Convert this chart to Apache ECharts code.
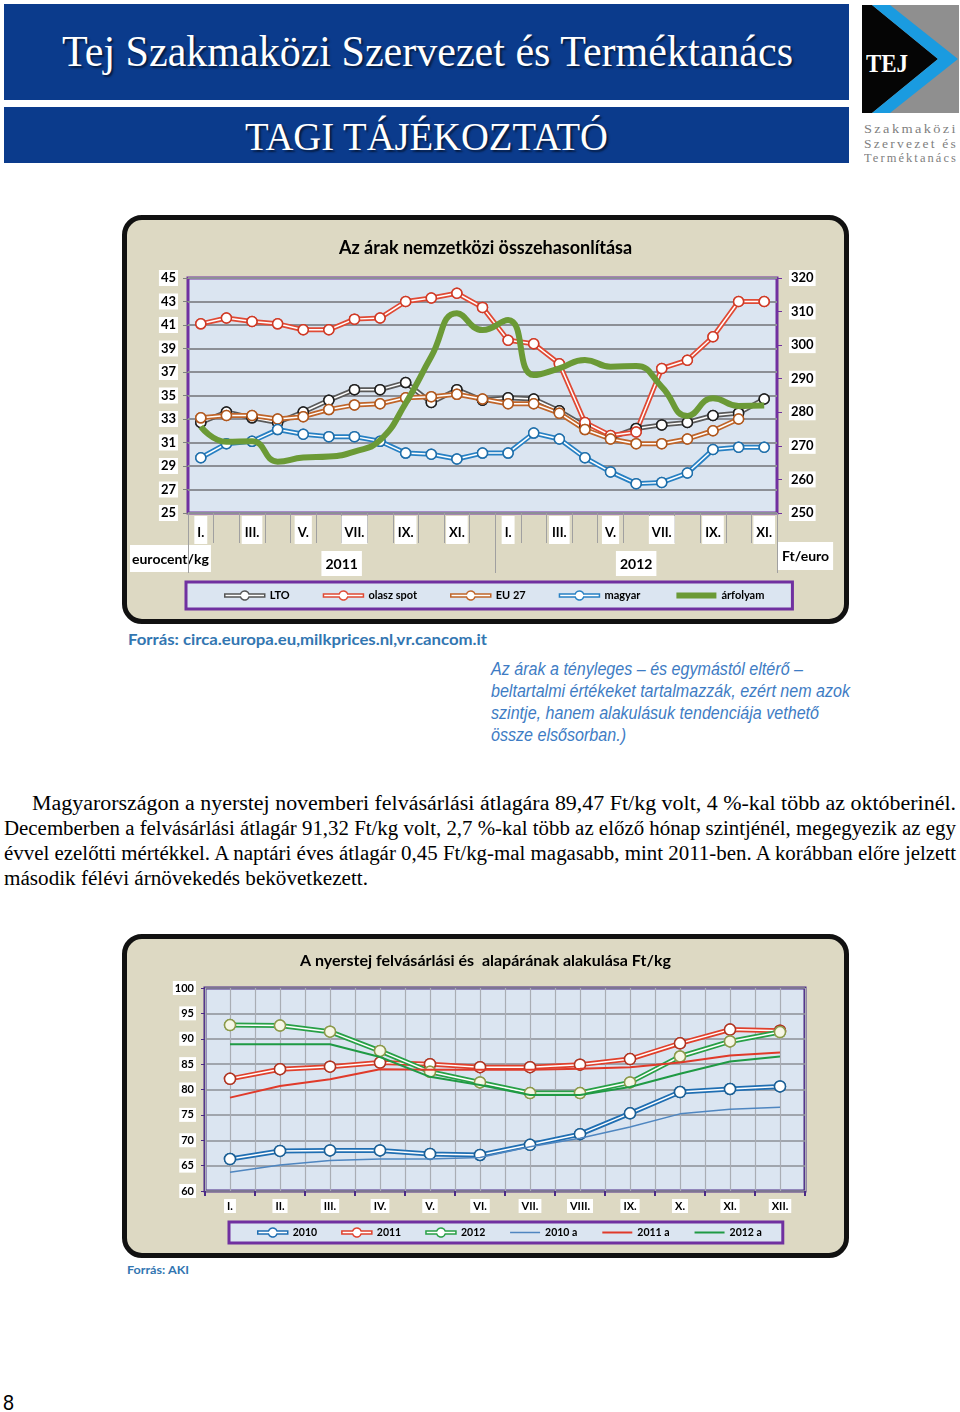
<!DOCTYPE html>
<html><head><meta charset="utf-8">
<script src="https://cdn.jsdelivr.net/npm/echarts@6/dist/echarts.min.js"></script>
<style>
body{margin:0;width:960px;height:1412px;position:relative;background:#fff;overflow:hidden;font-family:Lato,'Open Sans',sans-serif;}
.abs{position:absolute;}
.fit{white-space:nowrap;transform-origin:0 50%;line-height:1.15;}
.frame{position:absolute;box-sizing:border-box;border:5px solid #111;border-radius:20px;background:#ddd9c3;}
.banner{position:absolute;background:#0b3b8c;}
</style></head><body>
<div class="banner" style="left:4px;top:4px;width:845px;height:96px;"></div>
<div class="banner" style="left:4px;top:107px;width:845px;height:56px;"></div>
<svg class="abs" style="left:862px;top:5px" width="97" height="108" viewBox="0 0 97 108">
  <rect x="0" y="0" width="97" height="108" fill="#8f8f8f"/>
  <polygon points="0,0 10,0 76,54 10,108 0,108" fill="#050505"/>
  <polygon points="10,0 28,0 96,54 28,108 10,108 76,54" fill="#1a9be0"/>
</svg>
<div class="frame" style="left:122px;top:215px;width:727px;height:409px;"></div>
<div class="frame" style="left:122px;top:934px;width:727px;height:324px;"></div>
<div id="c1" class="abs" style="left:122px;top:215px;width:727px;height:409px;"></div>
<div id="c2" class="abs" style="left:122px;top:934px;width:727px;height:324px;"></div>
<script>
// ---------- Chart 1 data ----------
const months1 = ['I.','II.','III.','IV.','V.','VI.','VII.','VIII.','IX.','X.','XI.','XII.','I.','II.','III.','IV.','V.','VI.','VII.','VIII.','IX.','X.','XI.'];
const years1 = ['2011','2012'];
const lto = [32.7,33.6,33.1,32.7,33.6,34.6,35.5,35.5,36.1,34.4,35.5,34.6,34.8,34.7,33.7,32.4,31.4,32.2,32.5,32.7,33.3,33.5,34.7];
const olaszSpot = [41.1,41.6,41.3,41.1,40.6,40.6,41.5,41.6,43.0,43.3,43.7,42.5,39.7,39.4,37.7,32.7,31.6,31.9,37.3,38.0,40.0,43.0,43.0];
const eu27 = [33.1,33.3,33.3,33.0,33.2,33.8,34.2,34.3,34.8,34.9,35.1,34.7,34.3,34.3,33.5,32.1,31.3,30.9,30.9,31.3,32.0,33.0,null];
const magyar = [29.7,30.9,31.1,32.1,31.7,31.5,31.5,31.1,30.1,30.0,29.6,30.1,30.1,31.8,31.3,29.7,28.5,27.5,27.6,28.4,30.4,30.6,30.6];
const arfolyam = [275.7,271.2,271.4,265.3,266.5,266.8,268.3,271.7,282.7,296.6,309.5,304.5,307.5,291.1,293.1,295.6,293.6,293.8,287.6,278.9,284.2,281.9,282.0];
const legend1 = ['LTO','olasz spot','EU 27','magyar','árfolyam'];

// ---------- Chart 2 data ----------
const months2 = ['I.','II.','III.','IV.','V.','VI.','VII.','VIII.','IX.','X.','XI.','XII.'];
const y2010 = [66.3,67.9,68.0,68.0,67.3,67.1,69.1,71.2,75.3,79.5,80.1,80.6];
const y2011 = [82.1,84.0,84.5,85.3,85.0,84.4,84.4,84.9,86.0,89.1,91.8,91.6];
const y2012 = [92.7,92.6,91.4,87.6,83.5,81.4,79.3,79.3,81.4,86.5,89.47,91.32];
const y2010a = [63.7,65.1,66.0,66.3,66.3,66.6,68.7,70.4,72.6,75.2,76.1,76.5];
const y2011a = [78.4,80.7,82.0,84.0,83.9,83.9,83.9,84.1,84.4,85.3,86.7,87.3];
const y2012a = [88.9,88.9,88.9,86.4,82.5,80.9,78.9,78.9,80.5,83.1,85.5,86.5];
const legend2 = ['2010','2011','2012','2010 a','2011 a','2012 a'];

// ---------- helpers ----------
const F = 'Lato, "Open Sans", sans-serif';
function lab(size, pad){ return {fontFamily:F, fontWeight:'bold', fontSize:size, color:'#000', backgroundColor:'#fff', padding:pad}; }
function dbl(name, data, color, border, size, fill){
  const base = {name, type:'line', data, symbol:'circle', symbolSize:size, z:2,
    lineStyle:{color, width:5}, itemStyle:{color:fill||'#fff', borderColor:border, borderWidth:1.5},
    emphasis:{disabled:true}};
  const top = {name, type:'line', data, symbol:'circle', symbolSize:size, z:2,
    lineStyle:{color:'#fff', width:1.5}, itemStyle:{color:fill||'#fff', borderColor:border, borderWidth:1.5},
    emphasis:{disabled:true}};
  return [base, top];
}
// double-line legend icon: bar with a ring in the middle (outline only)
function ringIcon(w){
  const c = w/2, dx = 4.243;
  return 'path://M0,3.5L' + (c-dx) + ',3.5A4.5,4.5,0,0,1,' + (c+dx) + ',3.5L' + w + ',3.5L' + w + ',6.5L' +
    (c+dx) + ',6.5A4.5,4.5,0,0,1,' + (c-dx) + ',6.5L0,6.5Z';
}
function ringItem(name, w, color, fill){
  return {name, icon:ringIcon(w), itemStyle:{color:fill||'#fff', borderColor:color, borderWidth:1.5}};
}
function plainItem(name, color, width){
  return {name, itemStyle:{color:'rgba(0,0,0,0)', borderColor:'rgba(0,0,0,0)', borderWidth:0}, lineStyle:{color, width}};
}

// ---------- Chart 1 ----------
const c1 = echarts.init(document.getElementById('c1'));
c1.setOption({
  animation:false,
  title:{text:'Az árak nemzetközi összehasonlítása', left:'center', top:19,
    textStyle:{fontFamily:F, fontSize:18, fontWeight:'bold', color:'#000'}},
  grid:{left:66, top:63, width:589, height:235, show:true, backgroundColor:'#dbe5f1', borderColor:'#7030a0', borderWidth:3},
  legend:{left:64, top:367, itemWidth:40, itemHeight:9, itemGap:33, padding:[8,28,8,38],
    backgroundColor:'#dbe5f1', borderColor:'#7030a0', borderWidth:3,
    textStyle:{fontFamily:F, fontWeight:'bold', fontSize:11, color:'#000'},
    data:[ringItem(legend1[0],40,'#555'), ringItem(legend1[1],40,'#e04a35'), ringItem(legend1[2],40,'#c0652a'),
          ringItem(legend1[3],40,'#2780c3'), plainItem(legend1[4],'#6b9a36',6)]},
  xAxis:[
    {type:'category', data:months1, boundaryGap:true, axisLine:{show:false},
     axisTick:{show:true, interval:0, length:30, lineStyle:{color:'#a0a0a0'}},
     axisLabel:{interval:1, margin:3, ...lab(13,[10,3,5,3])}},
    {type:'value', min:0, max:23, position:'bottom', axisLine:{show:false}, splitLine:{show:false},
     axisTick:{show:true, customValues:[0,12,23], length:60, lineStyle:{color:'#a0a0a0'}},
     axisLabel:{customValues:[6,17.5], formatter:v => (v < 12 ? years1[0] : years1[1]), margin:38, ...lab(14,[6,4,5,4])}}
  ],
  yAxis:[
    {type:'value', min:25, max:45, interval:2, axisLine:{show:false},
     axisTick:{show:true, length:5, lineStyle:{color:'#808080'}},
     splitLine:{lineStyle:{color:'#8c8f96', width:2}}, axisLabel:{margin:10, ...lab(13,[2,2,1,2])}},
    {type:'value', min:250, max:320, interval:10, position:'right', axisLine:{show:false},
     axisTick:{show:true, length:5, lineStyle:{color:'#7030a0'}}, splitLine:{show:false},
     axisLabel:{margin:12, ...lab(13,[2,2,1,2])}}
  ],
  graphic:[
    {type:'text', left:8, top:330, style:{text:'eurocent/kg', font:'bold 14px '+F, fill:'#000', backgroundColor:'#fff', padding:[7,2,6,2]}},
    {type:'text', left:656, top:327, style:{text:'Ft/euro', font:'bold 14px '+F, fill:'#000', backgroundColor:'#fff', padding:[7,4,7,4]}}
  ],
  series:[
    {name:'árfolyam', type:'line', yAxisIndex:1, data:arfolyam, smooth:0.5, symbol:'none',
     lineStyle:{color:'#6b9a36', width:6}, itemStyle:{color:'#6b9a36'}, emphasis:{disabled:true}},
    ...dbl('LTO', lto, '#5a5a5a', '#202020', 10),
    ...dbl('olasz spot', olaszSpot, '#e04a35', '#d03a26', 10),
    ...dbl('EU 27', eu27, '#c0652a', '#b0581e', 10),
    ...dbl('magyar', magyar, '#2780c3', '#1f6fab', 10)
  ]
});

// ---------- Chart 2 ----------
const c2 = echarts.init(document.getElementById('c2'));
c2.setOption({
  animation:false,
  title:{text:'A nyerstej felvásárlási és  alapárának alakulása Ft/kg', left:'center', top:14,
    textStyle:{fontFamily:F, fontSize:16, fontWeight:'bold', color:'#000'}},
  grid:{left:83, top:54, width:600, height:203, show:true, backgroundColor:'#dbe5f1', borderColor:'#4b2a86', borderWidth:3},
  legend:{left:107, top:288, itemWidth:30, itemHeight:9, itemGap:24, padding:[5,21,5,28],
    backgroundColor:'#dbe5f1', borderColor:'#7030a0', borderWidth:3,
    textStyle:{fontFamily:F, fontWeight:'bold', fontSize:10.5, color:'#000'},
    data:[ringItem(legend2[0],30,'#1f6eb2'), ringItem(legend2[1],30,'#e0402c'), ringItem(legend2[2],30,'#28a046'),
          plainItem(legend2[3],'#4f86c0',1.5), plainItem(legend2[4],'#e03a2a',2), plainItem(legend2[5],'#1f9a44',2)]},
  xAxis:[
    {type:'category', data:months2, boundaryGap:true, axisLine:{show:false},
     axisTick:{show:true, interval:0, length:5, lineStyle:{color:'#4b2a86', width:2}},
     axisLabel:{interval:0, margin:8, ...lab(11,[2,3,1,3])}},
    {type:'value', min:0, max:24, interval:1, position:'bottom', axisLine:{show:false}, axisTick:{show:false},
     axisLabel:{show:false}, splitLine:{show:true, lineStyle:{color:'#a9adb4', width:1.2}}}
  ],
  yAxis:{type:'value', min:60, max:100, interval:5, axisLine:{show:false},
    axisTick:{show:true, length:4, lineStyle:{color:'#4b2a86'}},
    splitLine:{lineStyle:{color:'#8c8f96', width:1.5}}, axisLabel:{margin:9, ...lab(11,[2,2,1,2])}},
  series:[
    {name:'2010 a', type:'line', data:y2010a, symbol:'none', lineStyle:{color:'#4f86c0', width:1.5}, itemStyle:{color:'#4f86c0'}, emphasis:{disabled:true}},
    {name:'2011 a', type:'line', data:y2011a, symbol:'none', lineStyle:{color:'#e03a2a', width:2}, itemStyle:{color:'#e03a2a'}, emphasis:{disabled:true}},
    {name:'2012 a', type:'line', data:y2012a, symbol:'none', lineStyle:{color:'#1f9a44', width:2}, itemStyle:{color:'#1f9a44'}, emphasis:{disabled:true}},
    ...dbl('2010', y2010, '#1f6eb2', '#1b5f95', 11),
    ...dbl('2011', y2011, '#e0402c', '#b03522', 11),
    ...dbl('2012', y2012, '#28a046', '#8c9a4a', 11, '#f6f6e6')
  ]
});

// ---------- page text ----------
function txt(s, x, cy, w, css){
  const d = document.createElement('div');
  d.className = 'abs fit';
  d.textContent = s;
  Object.assign(d.style, css || {});
  d.style.left = x + 'px';
  document.body.appendChild(d);
  const h = d.offsetHeight;
  d.style.top = (cy - h/2) + 'px';
  if (w) { const nat = d.getBoundingClientRect().width; d.style.transform = 'scaleX(' + (w/nat) + ')'; }
  return d;
}
const serifHead = {fontFamily:'"Liberation Serif", "DejaVu Serif", serif', color:'#fff', textShadow:'2px 2px 2px rgba(0,0,0,0.55)'};
txt('Tej Szakmaközi Szervezet és Terméktanács', 62, 52, 731, Object.assign({fontSize:'44px'}, serifHead));
txt('TAGI TÁJÉKOZTATÓ', 245, 137, 363, Object.assign({fontSize:'40px'}, serifHead));
txt('TEJ', 866, 64, 42, {fontFamily:'"Liberation Serif", serif', fontWeight:'bold', fontSize:'26px', color:'#fff'});
const logoCss = {fontFamily:'"Liberation Serif", serif', fontSize:'12px', color:'#7f7f7f', letterSpacing:'2px'};
txt('Szakmaközi', 864, 130, 94, logoCss);
txt('Szervezet és', 864, 145, 94, logoCss);
txt('Terméktanács', 864, 159, 94, logoCss);

txt('Forrás: circa.europa.eu,milkprices.nl,vr.cancom.it', 128, 639, 359, {fontFamily:F, fontWeight:'bold', fontSize:'15px', color:'#3276b1'});
const itCss = {fontFamily:'"Liberation Sans Narrow", "Liberation Sans", Arial, sans-serif', fontStyle:'italic', fontSize:'19px', color:'#3e7cc4'};
txt('Az árak a tényleges – és egymástól eltérő –', 491, 669, 312, itCss);
txt('beltartalmi értékeket tartalmazzák, ezért nem azok', 491, 691, 359, itCss);
txt('szintje, hanem alakulásuk tendenciája vethető', 491, 713, 328, itCss);
txt('össze elsősorban.)', 491, 735, 135, itCss);

const pCss = {fontFamily:'"Liberation Serif", "Times New Roman", serif', fontSize:'20px', color:'#000'};
txt('Magyarországon a nyerstej novemberi felvásárlási átlagára 89,47 Ft/kg volt, 4 %-kal több az októberinél.', 32, 803, 924, pCss);
txt('Decemberben a felvásárlási átlagár 91,32 Ft/kg volt, 2,7 %-kal több az előző hónap szintjénél, megegyezik az egy', 4, 828, 952, pCss);
txt('évvel ezelőtti mértékkel. A naptári éves átlagár 0,45 Ft/kg-mal magasabb, mint 2011-ben. A korábban előre jelzett', 4, 853, 952, pCss);
txt('második félévi árnövekedés bekövetkezett.', 4, 878, 364, pCss);

txt('Forrás: AKI', 127, 1270, 62, {fontFamily:F, fontWeight:'bold', fontSize:'12px', color:'#3276b1'});
txt('8', 3, 1402, 11, {fontFamily:'"Liberation Sans Narrow", "Liberation Sans", sans-serif', fontSize:'22px', color:'#000'});
</script>
</body></html>
